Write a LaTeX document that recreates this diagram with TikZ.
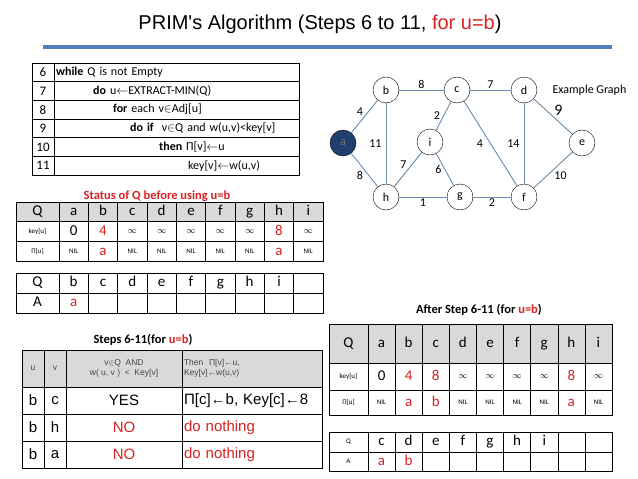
\documentclass[tikz,border=0pt]{standalone}
\usepackage{fontspec}
\setmainfont{Carlito}
\newfontfamily\arialfont{Liberation Sans}
\usetikzlibrary{positioning}

\definecolor{qred}{RGB}{215,35,35}
\definecolor{hdrgray}{RGB}{217,217,217}
\definecolor{hdrtext}{RGB}{70,70,70}
\definecolor{titleblue}{RGB}{79,129,189}
\definecolor{edgeblue}{RGB}{105,140,175}
\definecolor{nodeblue}{RGB}{31,63,110}

\newcommand{\bv}[1]{{\fontsize{15}{15}\selectfont\vphantom{bg}#1}}
\newcommand{\rv}[1]{{\fontsize{15}{15}\selectfont\color{qred}\vphantom{bg}#1}}
\newcommand{\sv}[1]{{\fontsize{7}{7}\selectfont\vphantom{bg}#1}}
\newcommand{\nil}{\sv{NIL}}
\newcommand{\infv}{{\fontsize{9}{9}\selectfont\vphantom{bg}$\infty$}}

\begin{document}
\begin{tikzpicture}[x=1pt, y=-1pt,
    font=\fontsize{12}{14}\selectfont,
    vtx/.style={draw, circle, minimum size=26pt, inner sep=0pt},
    wt/.style={inner sep=1pt},
    edg/.style={draw=edgeblue, line width=0.9pt},
    numcell/.style={draw, inner sep=0pt, outer sep=0pt, minimum width=22.3pt, minimum height=18.67pt, font=\fontsize{13}{14}\selectfont},
    codecell/.style={draw, inner xsep=2pt, inner ysep=0pt, outer sep=0pt, text width=241pt, minimum height=18.67pt, align=left},
    tcell/.style={draw, inner sep=0pt, outer sep=0pt, minimum width=29.33pt, minimum height=19.67pt},
    hcell/.style={tcell, fill=hdrgray},
    scell/.style={draw, inner sep=0pt, outer sep=0pt, minimum height=27pt, font=\arialfont\fontsize{15}{17}\selectfont},
    shead/.style={scell, fill=hdrgray, minimum height=37pt, text=hdrtext, font=\arialfont\fontsize{8.5}{10}\selectfont},
    ttl/.style={font=\bfseries\fontsize{12.5}{14}\selectfont}
  ]
  \path[use as bounding box, fill=white] (0,0) rectangle (638,479);

  % title and rule
  \node[font=\arialfont\fontsize{20}{22}\selectfont] (title) at (320,24) {PRIM's Algorithm (Steps 6 to 11, \textcolor{qred}{for u=b})};
  \coordinate (rl) at (43,47);
  \coordinate (rr) at (612,47);
  \draw[titleblue, line width=4.5pt] (rl) -- (rr);

  % pseudocode lines 6-11
  \foreach \ln/\ind/\txt [count=\r from 0] in {
      6/0pt/{\textbf{while} Q is not Empty},
      7/37pt/{\textbf{do} u$\leftarrow$EXTRACT-MIN(Q)},
      8/57pt/{\textbf{for} each v$\in$Adj[u]},
      9/74pt/{\textbf{do if}\ \ v$\in$Q and w(u,v)<key[v]},
      10/103pt/{\textbf{then} Π[v]$\leftarrow$u},
      11/132pt/{key[v]$\leftarrow$w(u,v)}} {
    \node[numcell] (n\ln) at (43, 72.33+18.67*\r) {\ln};
    \node[codecell, right=0pt of n\ln] (c\ln) {\hspace*{\ind}\txt};
  }

  % example graph
  \node[vtx, fill=nodeblue, text=black!55] (a) at (343,143) {a};
  \node[vtx] (b) at (386,90) {b};
  \node[vtx] (c) at (457,90) {c};
  \node[vtx] (d) at (524,90) {d};
  \node[vtx] (e) at (582,143) {e};
  \node[vtx] (i) at (430,142) {i};
  \node[vtx] (h) at (386,197) {h};
  \node[vtx] (g) at (460,197) {g};
  \node[vtx] (f) at (524,197) {f};
  \node[anchor=west] (exg) at (549,90) {Example Graph};
  \draw[edg] (a) -- node[wt, above left] {4} (b);
  \draw[edg] (a) -- node[wt, below left] {8} (h);
  \draw[edg] (b) -- node[wt, above] {8} (c);
  \draw[edg] (b) -- node[wt, left=3pt] {11} (h);
  \draw[edg] (c) -- node[wt, above] {7} (d);
  \draw[edg] (c) -- node[wt, left=2pt] {2} (i);
  \draw[edg] (c) -- node[wt, left=6pt] {4} (f);
  \draw[edg] (d) -- node[wt, left=3pt] {14} (f);
  \draw[edg] (d) -- node[wt, above right, font=\fontsize{16}{16}\selectfont] {9} (e);
  \draw[edg] (e) -- node[wt, below right] {10} (f);
  \draw[edg] (h) -- node[wt, above left] {7} (i);
  \draw[edg] (i) -- node[wt, left=2pt] {6} (g);
  \draw[edg] (h) -- node[wt, below] {1} (g);
  \draw[edg] (g) -- node[wt, below] {2} (f);

  % status of Q before u=b
  \node[ttl, text=qred] (stt) at (157,196) {Status of Q before using u=b};
  \node[hcell, minimum width=43pt] (sq) at (37.5,211.83) {\bv{Q}};
  \node[tcell, minimum width=43pt, below=0pt of sq] (skey) {\sv{key[u]}};
  \node[tcell, minimum width=43pt, below=0pt of skey] (spi) {\sv{Π[u]}};
  \foreach \n/\kv/\pv [count=\k from 0] in {a/\bv{0}/\nil, b/\rv{4}/\rv{a}, c/\infv/\nil,
      d/\infv/\nil, e/\infv/\nil, f/\infv/\nil, g/\infv/\nil, h/\rv{8}/\rv{a}, i/\infv/\nil} {
    \node[hcell] (sh\n) at (73.67+29.33*\k, 211.83) {\bv{\n}};
    \node[tcell, below=0pt of sh\n] (sk\n) {\kv};
    \node[tcell, below=0pt of sk\n] (sp\n) {\pv};
  }

  % Q and A before
  \node[tcell, minimum width=43pt, minimum height=20pt] (qq) at (37.5,283) {\bv{Q}};
  \node[tcell, minimum width=43pt, minimum height=20pt, below=0pt of qq] (qa) {\bv{A}};
  \foreach \n/\av [count=\k from 0] in {b/\rv{a}, c/{}, d/{}, e/{}, f/{}, g/{}, h/{}, i/{}, {}/{}} {
    \node[tcell, minimum height=20pt] (qq\k) at (73.67+29.33*\k, 283) {\bv{\n}};
    \node[tcell, minimum height=20pt, below=0pt of qq\k] (qa\k) {\av};
  }

  % steps 6-11 for u=b
  \node[ttl] (sttl) at (143,340) {Steps 6-11(for \textcolor{qred}{u=b})};
  \node[shead, minimum width=22pt] (hu) at (33,368.5) {u};
  \node[shead, minimum width=22pt] (hv) at (55,368.5) {v};
  \node[shead, minimum width=116pt, align=center] (hc) at (124,368.5) {v$\in$Q\ \ AND\\w( u, v )\ \ <\ \ Key[v]};
  \node[shead, text width=136pt, inner xsep=2pt, align=left] (ht) at (252,368.5) {Then\ \ Π[v]←u,\\Key[v]←w(u,v)};
  \foreach \u/\v/\col/\ok/\act [count=\r from 0] in {b/c/black/YES/{Π[c]←b, Key[c]←8},
      b/h/qred/NO/{do nothing}, b/a/qred/NO/{do nothing}} {
    \node[scell, minimum width=22pt] (u\r) at (33, 400.5+27*\r) {\u};
    \node[scell, minimum width=22pt] (v\r) at (55, 400.5+27*\r) {\v};
    \node[scell, minimum width=116pt, text=\col] (ok\r) at (124, 400.5+27*\r) {\ok};
    \node[scell, text width=136pt, inner xsep=2pt, align=left, text=\col] (act\r) at (252, 400.5+27*\r) {\act};
  }

  % after steps 6-11
  \node[ttl] (attl) at (479,310) {After Step 6-11 (for \textcolor{qred}{u=b})};
  \node[hcell, minimum width=39pt, minimum height=39pt] (aq) at (348.5,343.5) {\bv{Q}};
  \node[tcell, minimum width=39pt, minimum height=27pt, below=0pt of aq] (akey) {\sv{key[u]}};
  \node[tcell, minimum width=39pt, minimum height=25pt, below=0pt of akey] (api) {\sv{Π[u]}};
  \foreach \n/\kv/\pv [count=\k from 0] in {a/\bv{0}/\nil, b/\rv{4}/\rv{a}, c/\rv{8}/\rv{b},
      d/\infv/\nil, e/\infv/\nil, f/\infv/\nil, g/\infv/\nil, h/\rv{8}/\rv{a}, i/\infv/\nil} {
    \node[hcell, minimum width=27.11pt, minimum height=39pt] (ah\n) at (381.56+27.11*\k, 343.5) {\bv{\n}};
    \node[tcell, minimum width=27.11pt, minimum height=27pt, below=0pt of ah\n] (ak\n) {\kv};
    \node[tcell, minimum width=27.11pt, minimum height=25pt, below=0pt of ak\n] (ap\n) {\pv};
  }

  % Q and A after
  \node[tcell, minimum width=39pt, minimum height=20pt] (bq) at (348.5,442) {\sv{Q}};
  \node[tcell, minimum width=39pt, minimum height=19pt, below=0pt of bq] (ba) {\sv{A}};
  \foreach \n/\av [count=\k from 0] in {c/\rv{a}, d/\rv{b}, e/{}, f/{}, g/{}, h/{}, i/{}, {}/{}, {}/{}} {
    \node[tcell, minimum width=27.11pt, minimum height=20pt] (bq\k) at (381.56+27.11*\k, 442) {\bv{\n}};
    \node[tcell, minimum width=27.11pt, minimum height=19pt, below=0pt of bq\k] (ba\k) {\av};
  }
\end{tikzpicture}
\end{document}
